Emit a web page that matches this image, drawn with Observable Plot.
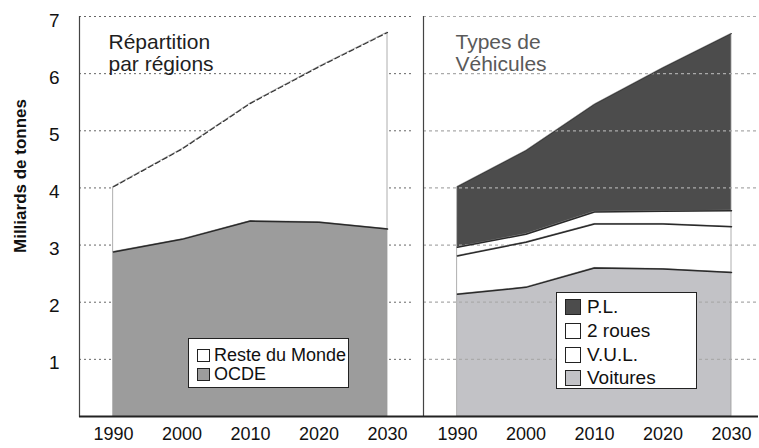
<!DOCTYPE html>
<html><head><meta charset="utf-8">
<script src="https://cdn.jsdelivr.net/npm/d3@7"></script>
<script src="https://cdn.jsdelivr.net/npm/@observablehq/plot@0.6"></script>
<style>
body{margin:0;background:#fff;font-family:"Liberation Sans",Arial,sans-serif;}
#wrap{position:relative;width:759px;height:448px;overflow:hidden;}
.ylab{position:absolute;left:21px;top:176px;transform:translate(-50%,-50%) rotate(-90deg);font-weight:bold;font-size:17px;color:#111;white-space:nowrap;}
.legend{position:absolute;background:#fff;border:1px solid #222;color:#111;box-sizing:border-box;}
.legend .row{position:absolute;left:0;white-space:nowrap;display:flex;align-items:center;}
.legend .sw{display:inline-block;border:1px solid #222;box-sizing:border-box;}
</style></head><body><div id="wrap"></div><script>
// ---- data ----
const years = [1990, 2000, 2010, 2020, 2030];
const panels = ["regions", "vehicules"];
// Répartition par régions (milliards de tonnes)
const ocde         = [2.88, 3.10, 3.42, 3.40, 3.28];
const resteDuMonde = [1.14, 1.58, 2.06, 2.72, 3.44];
// Types de véhicules
const voitures  = [2.14, 2.26, 2.60, 2.58, 2.52];
const vul       = [0.67, 0.79, 0.77, 0.79, 0.80];
const deuxRoues = [0.15, 0.14, 0.21, 0.22, 0.28];
const pl        = [1.06, 1.46, 1.88, 2.51, 3.10];
const yTicks = [1, 2, 3, 4, 5, 6, 7];
const xTicks = [1990, 2000, 2010, 2020, 2030];
const seriesNames = ["OCDE", "Reste du Monde", "Voitures", "V.U.L.", "2 roues", "P.L."];
const seriesColors = ["#9c9c9c", "#ffffff", "#c2c2c6", "#ffffff", "#ffffff", "#4c4c4c"];
const titles = ["Répartition\npar régions", "Types de\nVéhicules"];

// ---- tidy rows with cumulative bases ----
const stacks = [
  {panel: "regions", series: [["OCDE", ocde], ["Reste du Monde", resteDuMonde]]},
  {panel: "vehicules", series: [["Voitures", voitures], ["V.U.L.", vul], ["2 roues", deuxRoues], ["P.L.", pl]]}
];
const rows = [];
for (const st of stacks) {
  const base = years.map(() => 0);
  for (const [name, vals] of st.series) {
    years.forEach((yr, i) => {
      rows.push({panel: st.panel, series: name, year: yr, base: base[i], top: base[i] + vals[i]});
      base[i] += vals[i];
    });
  }
}
const gridRows = panels.flatMap(p => yTicks.map(v => ({panel: p, v})));
const titleRows = panels.map((p, i) => ({panel: p, text: titles[i]}));

const chart = Plot.plot({
  width: 759, height: 448,
  marginLeft: 78, marginRight: 0, marginTop: 16, marginBottom: 32,
  style: {fontFamily: "'Liberation Sans', Arial, sans-serif", background: "#fff"},
  fx: {domain: panels, paddingInner: 0.026, paddingOuter: 0, axis: null, label: null},
  x: {domain: [1990, 2030], insetLeft: 34, insetRight: 27, axis: null},
  y: {domain: [0, 7], axis: null},
  color: {domain: seriesNames, range: seriesColors},
  marks: [
    // grid under the areas (left panel)
    Plot.ruleY(gridRows, {y: "v", fx: "panel", filter: d => d.panel === "regions", stroke: "#666", strokeDasharray: "2,3", strokeWidth: 1}),
    Plot.areaY(rows, {x: "year", y1: "base", y2: "top", z: "series", fx: "panel", fill: "series", stroke: "#9a9a9a", strokeWidth: 0.8}),
    // grid over the areas (right panel)
    Plot.ruleY(gridRows, {y: "v", fx: "panel", filter: d => d.panel === "vehicules", stroke: "#aaa", strokeDasharray: "3,3", strokeWidth: 1.2}),
    Plot.lineY(rows.filter(d => d.series !== "Reste du Monde" && d.series !== "P.L."), {x: "year", y: "top", z: "series", fx: "panel", stroke: "#2a2a2a", strokeWidth: 1.5}),
    Plot.lineY(rows.filter(d => d.series === "Reste du Monde"), {x: "year", y: "top", z: "series", fx: "panel", stroke: "#333", strokeWidth: 1.2, strokeDasharray: "5,3"}),
    Plot.lineY(rows.filter(d => d.series === "P.L."), {x: "year", y: "top", z: "series", fx: "panel", stroke: "#3a3a3a", strokeWidth: 1}),
    Plot.frame({anchor: "left", stroke: "#444", strokeWidth: 1.2}),
    Plot.ruleY([{panel: "regions", v: 0}], {y: "v", fx: "panel", stroke: "#222", strokeWidth: 2, insetRight: -9}),
    Plot.ruleY([{panel: "vehicules", v: 0}], {y: "v", fx: "panel", stroke: "#222", strokeWidth: 2}),
    Plot.text(titleRows.filter(d => d.panel === "regions"), {fx: "panel", text: "text", frameAnchor: "top-left", dx: 29, dy: 17, lineAnchor: "top", textAnchor: "start", fontSize: 21, lineHeight: 1.05, fill: "#1e1e1e"}),
    Plot.text(titleRows.filter(d => d.panel === "vehicules"), {fx: "panel", text: "text", frameAnchor: "top-left", dx: 32, dy: 17, lineAnchor: "top", textAnchor: "start", fontSize: 21, lineHeight: 1.05, fill: "#5a5a5a"}),
    Plot.axisY({ticks: yTicks, tickSize: 0, tickPadding: 20, fontSize: 19, dy: 4, label: null, fill: "#111", tickFormat: d => String(d)}),
    Plot.axisX({ticks: xTicks, tickSize: 0, tickPadding: 11, fontSize: 18, tickFormat: d => String(d), label: null, fill: "#111"})
  ]
});

const wrap = document.getElementById("wrap");
wrap.appendChild(chart);

const ylab = document.createElement("div");
ylab.className = "ylab";
ylab.textContent = "Milliards de tonnes";
wrap.appendChild(ylab);

// legends (HTML overlay)
const colorOf = n => seriesColors[seriesNames.indexOf(n)];
function legend(items, box, sw, font, rowYs, textX) {
  const el = document.createElement("div");
  el.className = "legend";
  Object.assign(el.style, {left: box[0] + "px", top: box[1] + "px", width: box[2] + "px", height: box[3] + "px", fontSize: font + "px"});
  items.forEach((name, i) => {
    const r = document.createElement("div");
    r.className = "row";
    r.style.top = (rowYs[i] - box[1] - sw / 2 - 1) + "px";
    r.style.left = "8px";
    r.style.height = sw + "px";
    const s = document.createElement("span");
    s.className = "sw";
    Object.assign(s.style, {width: sw + "px", height: sw + "px", background: colorOf(name)});
    const t = document.createElement("span");
    t.textContent = name;
    t.style.marginLeft = textX + "px";
    r.appendChild(s); r.appendChild(t);
    el.appendChild(r);
  });
  wrap.appendChild(el);
}
legend(["Reste du Monde", "OCDE"], [188, 338, 161, 50], 13, 18, [355, 374], 4);
legend(["P.L.", "2 roues", "V.U.L.", "Voitures"], [556, 292, 141, 97], 16, 19, [307, 331, 355, 378], 6);
</script></body></html>
